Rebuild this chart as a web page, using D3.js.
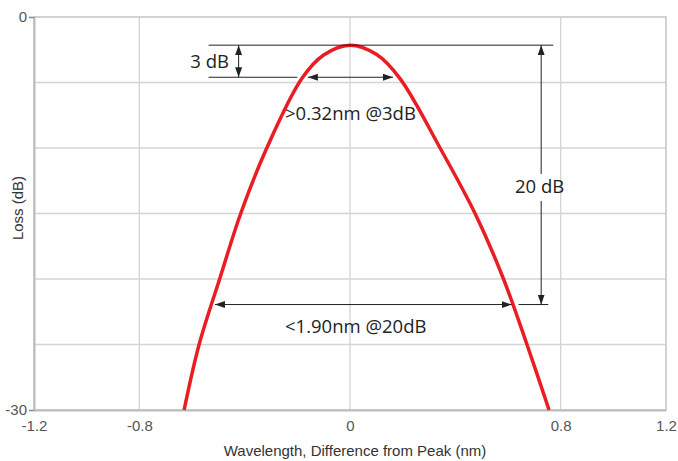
<!DOCTYPE html>
<html>
<head>
<meta charset="utf-8">
<script src="https://cdn.jsdelivr.net/npm/d3@7"></script>
<style>
body { margin: 0; background: #fff; }
svg { display: block; }
</style>
</head>
<body>
<svg id="chart" width="678" height="461"></svg>
<script>
// curve: wavelength offset (nm) and loss (dB)
var wavelength = [-0.630, -0.573, -0.495, -0.415, -0.316, -0.183, -0.1, 0, 0.1, 0.19, 0.342, 0.475, 0.583, 0.672, 0.756];
var loss       = [-30, -25, -20, -15, -10, -4.7, -2.9, -2.15, -2.85, -4.7, -10, -15, -20, -25, -30];

var xTicks = [-1.2, -0.8, 0, 0.8, 1.2];
var xGrid = [-0.8, 0, 0.8];
var yTicks = [0, -30];
var yGrid = [-5, -10, -15, -20, -25];

// annotation levels (dB) and widths (nm)
var peakLoss = -2.15;
var level3 = -4.6;
var level20 = -21.95;
var width3 = [-0.16, 0.163];
var width20 = [-0.513, 0.614];

var svg = d3.select('#chart');
var mLeft = 34, mRight = 666, mTop = 17, mBottom = 410;

var x = d3.scaleLinear().domain([-1.2, 1.2]).range([mLeft, mRight]);
var y = d3.scaleLinear().domain([-30, 0]).range([mBottom, mTop]);

var fmt = function(d){ return d === 0 ? '0' : String(d3.format('.1f')(d)).replace('\u2212', '-') };

var defs = svg.append('defs');
function marker(id, orient) {
	defs.append('marker')
		.attr('id', id)
		.attr('viewBox', '0 0 10 10')
		.attr('refX', 10).attr('refY', 5)
		.attr('markerWidth', 10).attr('markerHeight', 10)
		.attr('markerUnits', 'userSpaceOnUse')
		.attr('orient', orient)
		.append('path')
		.attr('d', 'M0,1.5 L10,5 L0,8.5 Z')
		.style('fill', '#222');
}
marker('head', 'auto');
marker('tail', 'auto-start-reverse');

// grid
svg.selectAll('.vgrid').data(xGrid).enter().append('line')
	.attr('x1', function(d){ return x(d) }).attr('x2', function(d){ return x(d) })
	.attr('y1', mTop).attr('y2', mBottom)
	.style('stroke', '#d4d4d4').style('stroke-width', 1.3);
svg.selectAll('.hgrid').data(yGrid).enter().append('line')
	.attr('y1', function(d){ return y(d) }).attr('y2', function(d){ return y(d) })
	.attr('x1', mLeft).attr('x2', mRight)
	.style('stroke', '#d4d4d4').style('stroke-width', 1.3);

// frame
svg.append('rect')
	.attr('x', mLeft).attr('y', mTop)
	.attr('width', mRight - mLeft).attr('height', mBottom - mTop)
	.style('fill', 'none').style('stroke', '#c4c4c4').style('stroke-width', 1.5);

// axes
var xAxis = svg.append('g')
	.attr('transform', 'translate(0,' + mBottom + ')')
	.call(d3.axisBottom(x).tickValues(xTicks).tickSize(0).tickPadding(10).tickFormat(fmt));
var yAxis = svg.append('g')
	.attr('transform', 'translate(' + mLeft + ',0)')
	.call(d3.axisLeft(y).tickValues(yTicks).tickSize(5).tickPadding(2)
		.tickFormat(function(d){ return String(d) }));
[xAxis, yAxis].forEach(function(g) {
	g.select('.domain').style('stroke', '#bcbcbc').style('stroke-width', 2);
	g.selectAll('.tick line').style('stroke', '#888');
	g.selectAll('text').style('font-family', 'Liberation Sans, Arial, sans-serif')
		.style('font-size', '15px').style('fill', '#555');
});

svg.append('text')
	.attr('x', 355).attr('y', 456)
	.attr('text-anchor', 'middle')
	.style('font-family', 'Liberation Sans, Arial, sans-serif')
	.style('font-size', '15px').style('fill', '#333')
	.text('Wavelength, Difference from Peak (nm)');
svg.append('text')
	.attr('transform', 'translate(23,208) rotate(-90)')
	.attr('text-anchor', 'middle')
	.style('font-family', 'Liberation Sans, Arial, sans-serif')
	.style('font-size', '15px').style('fill', '#333')
	.text('Loss (dB)');

// curve
var pts = wavelength.map(function(w, i){ return [w, loss[i]] });
var line = d3.line()
	.x(function(d){ return x(d[0]) })
	.y(function(d){ return y(d[1]) })
	.curve(d3.curveCatmullRom.alpha(0.5));
svg.append('path')
	.datum(pts)
	.attr('d', line)
	.style('fill', 'none')
	.style('stroke', '#ea1c24')
	.style('stroke-width', 3.5);

// annotations
var ann = svg.append('g').style('stroke', '#222').style('stroke-width', 1);
function seg(x1, y1, x2, y2) {
	return ann.append('line').attr('x1', x1).attr('y1', y1).attr('x2', x2).attr('y2', y2);
}
seg(x(-0.537), y(peakLoss), x(0.772), y(peakLoss));
seg(x(-0.537), y(level3), x(-0.2), y(level3));
seg(x(-0.423), y(peakLoss), x(-0.423), y(level3))
	.attr('marker-start', 'url(#tail)').attr('marker-end', 'url(#head)');
seg(x(width3[0]), y(level3), x(width3[1]), y(level3))
	.attr('marker-start', 'url(#tail)').attr('marker-end', 'url(#head)');
seg(x(0.64), y(level20), x(0.753), y(level20));
seg(x(0.726), y(peakLoss), x(0.726), 174).attr('marker-start', 'url(#tail)');
seg(x(0.726), 201, x(0.726), y(level20)).attr('marker-end', 'url(#head)');
seg(x(width20[0]), y(level20), x(width20[1]), y(level20))
	.attr('marker-start', 'url(#tail)').attr('marker-end', 'url(#head)');

function label(tx, ty, anchor, s) {
	svg.append('text')
		.attr('x', tx).attr('y', ty)
		.attr('text-anchor', anchor)
		.style('font-family', 'Open Sans, sans-serif')
		.style('font-size', '18.5px').style('fill', '#222')
		.text(s);
}
label(229, 68, 'end', '3 dB');
label(285, 120, 'start', '>0.32nm @3dB');
label(515, 193, 'start', '20 dB');
label(285, 333, 'start', '<1.90nm @20dB');
</script>
</body>
</html>
